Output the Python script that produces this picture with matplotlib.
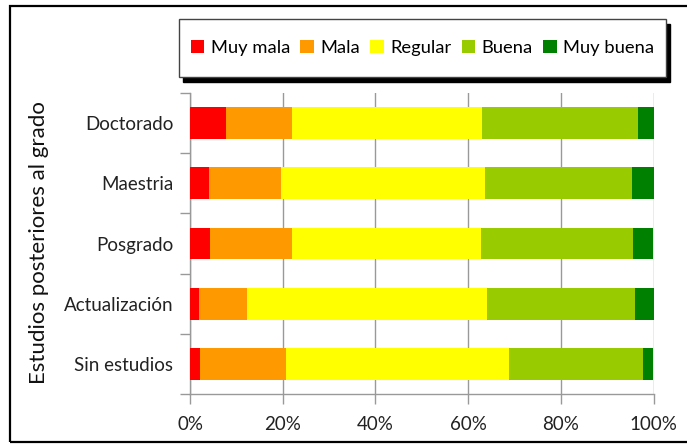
import matplotlib
matplotlib.use("Agg")
from matplotlib import pyplot as plt
from matplotlib.patches import Rectangle, Patch
import numpy as np

plt.rcParams['font.family'] = ['Lato', 'DejaVu Sans']

categories = ['Doctorado', 'Maestria', 'Posgrado', 'Actualización', 'Sin estudios']
series_names = ['Muy mala', 'Mala', 'Regular', 'Buena', 'Muy buena']
muy_mala = [7.8, 4.0, 4.4, 2.0, 2.2]
mala = [14.1, 15.7, 17.5, 10.4, 18.6]
regular = [41.0, 43.9, 40.8, 51.6, 48.0]
buena = [33.7, 31.7, 32.8, 32.0, 28.9]
muy_buena = [3.4, 4.7, 4.5, 4.0, 2.3]
colors = ['#FF0000', '#FF9900', '#FFFF00', '#99CC00', '#008000']
xticks = [0, 20, 40, 60, 80, 100]
xticklabels = ['0%', '20%', '40%', '60%', '80%', '100%']

W, H = 687, 444
fig = plt.figure(figsize=(W / 100, H / 100), dpi=100)

# outer chart border (right edge falls off the canvas)
fig.patches.append(Rectangle((10 / W, 2 / H), (W - 6) / W, 436 / H,
                             transform=fig.transFigure, fill=False,
                             edgecolor='black', linewidth=1.6))

ax = fig.add_axes([190 / W, 1 - 394 / H, 463.5 / W, 301 / H])

y = np.arange(len(categories))
left = np.zeros(len(categories))
for name, vals, c in zip(series_names, [muy_mala, mala, regular, buena, muy_buena], colors):
    vals = np.array(vals)
    ax.barh(y, vals, left=left, height=0.53, color=c, label=name, zorder=3)
    left += vals

ax.set_xlim(0, 100)
ax.set_ylim(len(categories) - 0.5, -0.5)
ax.set_xticks(xticks)
ax.set_xticklabels(xticklabels, fontsize=13.5, color='#222222')
ax.set_yticks(y)
ax.set_yticklabels(categories, fontsize=13.5, color='#222222')
ax.set_yticks(np.arange(-0.5, len(categories)), minor=True)
ax.tick_params(axis='y', which='major', length=0, pad=12)
ax.tick_params(axis='y', which='minor', length=7, color='#999999', width=1)
ax.tick_params(axis='x', length=7, color='#999999', width=1, pad=9)
ax.grid(axis='x', color='#999999', linewidth=1, zorder=0)
for s in ['top', 'right']:
    ax.spines[s].set_visible(False)
for s in ['left', 'bottom']:
    ax.spines[s].set_color('#999999')
    ax.spines[s].set_linewidth(1)

fig.text(39 / W, 1 - 243 / H, 'Estudios posteriores al grado', rotation=90,
         ha='center', va='center', fontsize=16, color='#111111')

# legend box with shadow
lx0, lx1, ly0, ly1 = 179, 666, 19, 77
fig.patches.append(Rectangle(((lx0 + 4) / W, 1 - (ly1 + 5) / H), (lx1 - lx0) / W, (ly1 - ly0) / H,
                             transform=fig.transFigure, facecolor='black', edgecolor='black'))
fig.patches.append(Rectangle((lx0 / W, 1 - ly1 / H), (lx1 - lx0) / W, (ly1 - ly0) / H,
                             transform=fig.transFigure, facecolor='white', edgecolor='#444444',
                             linewidth=1))
handles = [Patch(facecolor=c, edgecolor='none') for c in colors]
fig.legend(handles, series_names, loc='center', ncol=5, frameon=False,
           bbox_to_anchor=((lx0 + lx1) / 2 / W, 1 - (ly0 + ly1) / 2 / H),
           fontsize=13.2, handlelength=0.75, handleheight=0.75, handletextpad=0.35,
           columnspacing=0.55)

fig.savefig('out.png', dpi=100)
